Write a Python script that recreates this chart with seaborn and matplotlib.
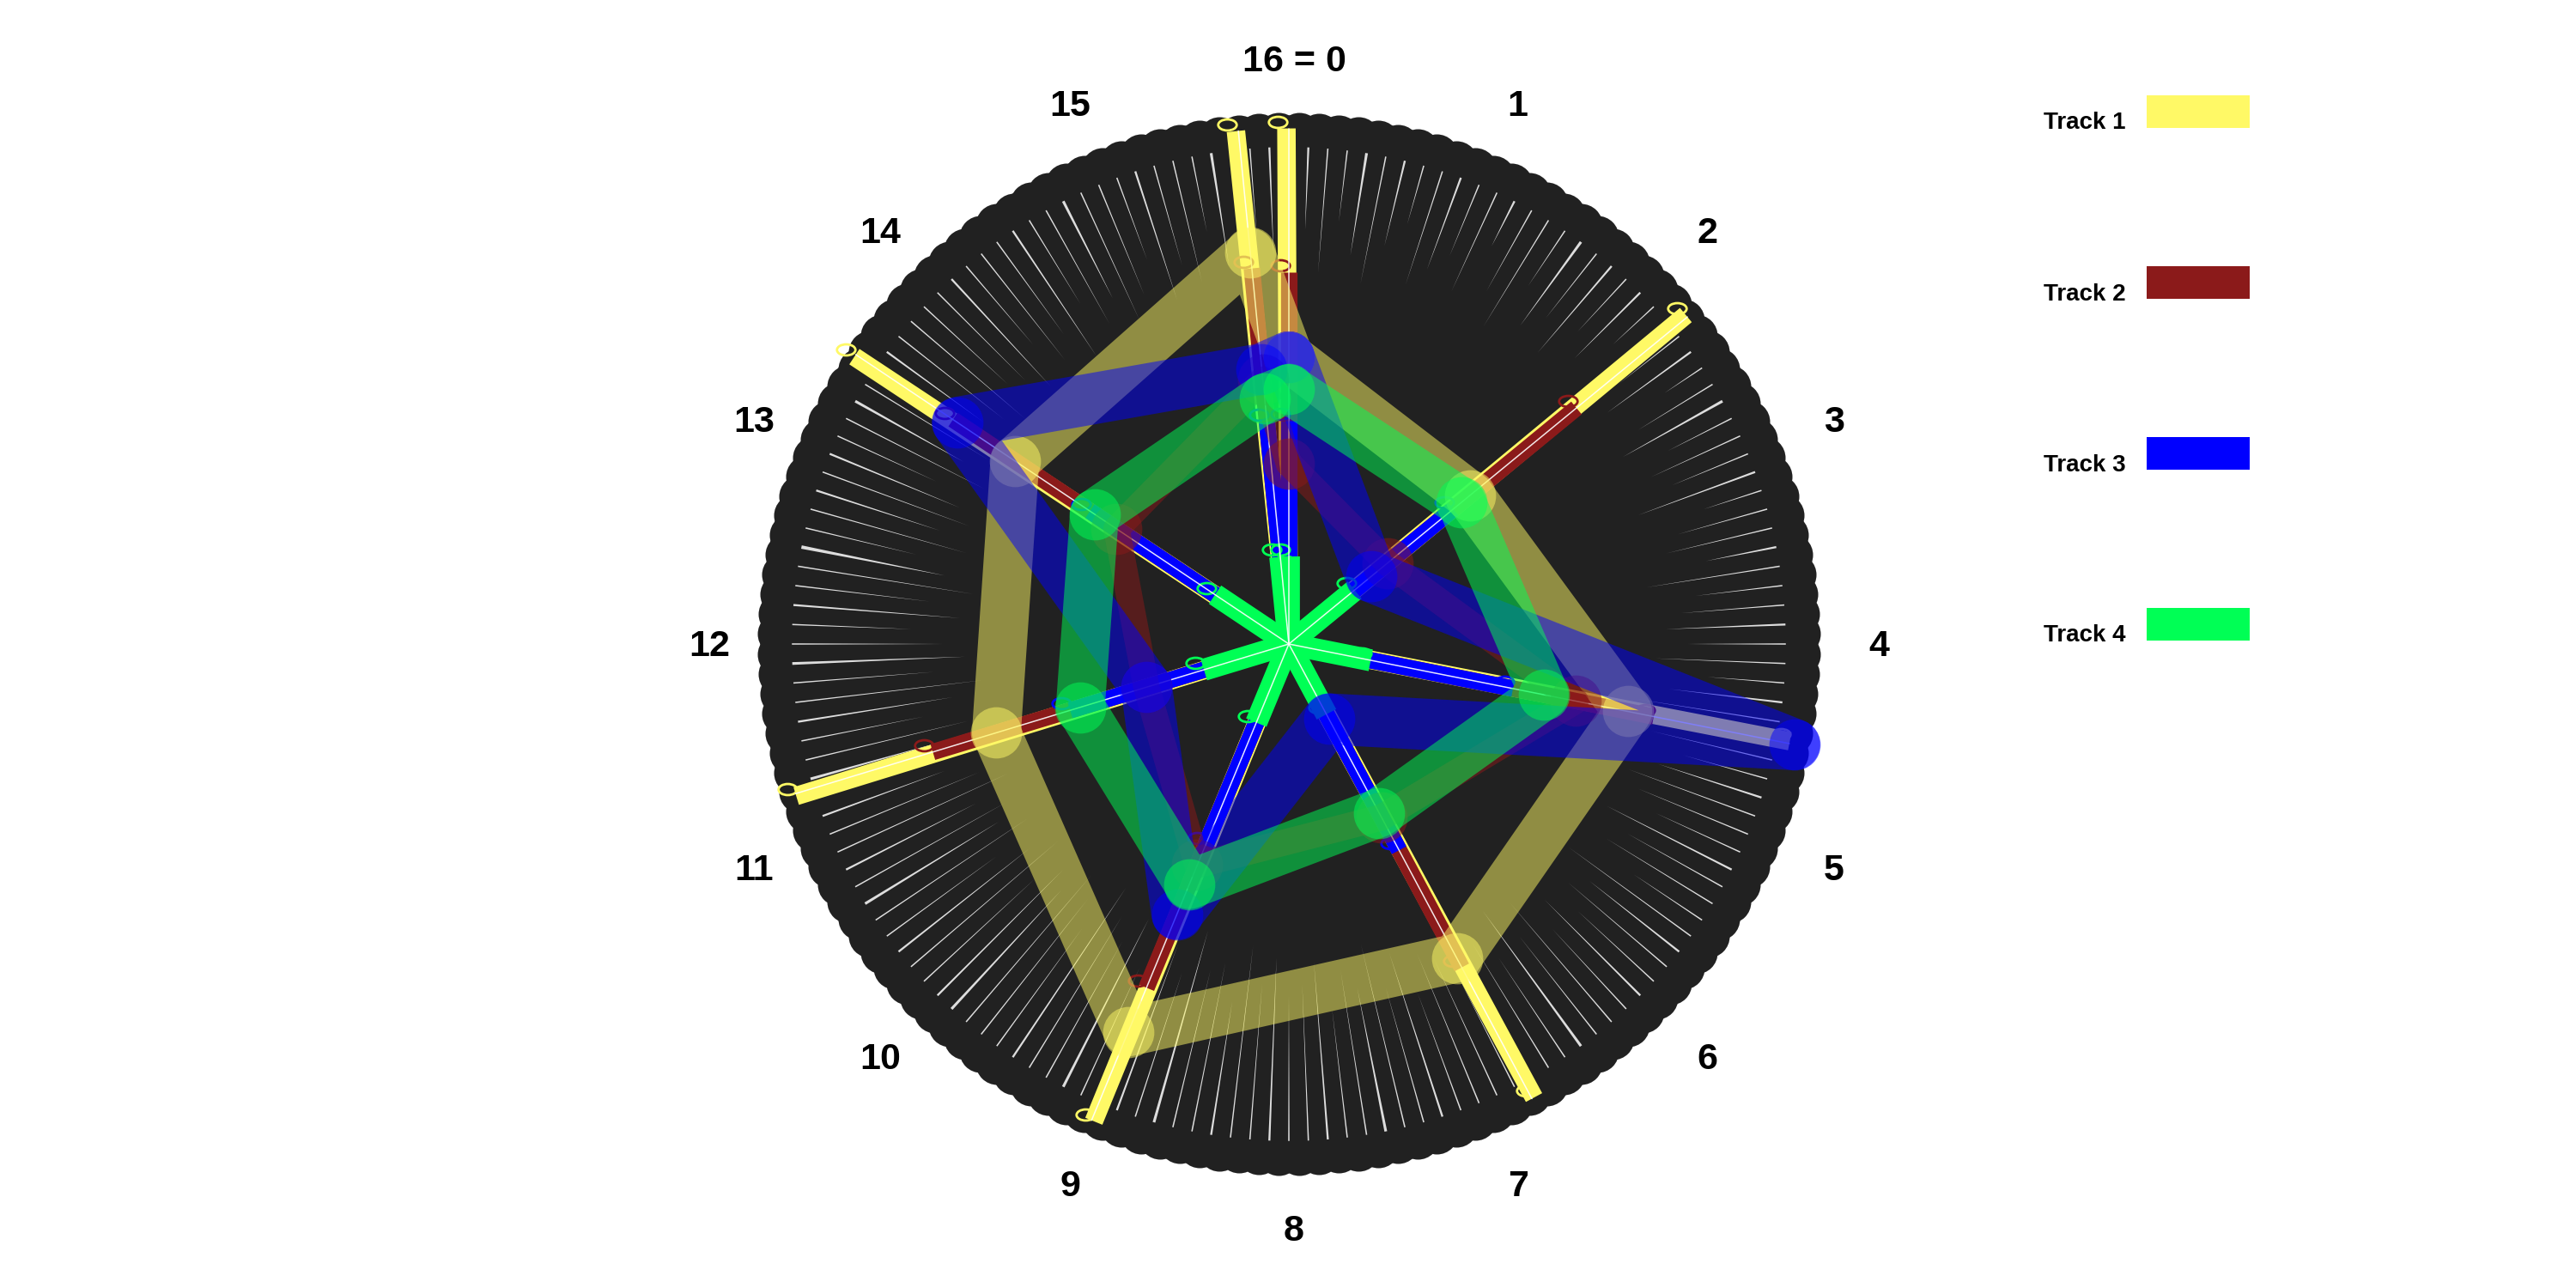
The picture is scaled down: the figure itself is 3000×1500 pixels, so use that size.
import numpy as np
import matplotlib
matplotlib.use("Agg")
import matplotlib.pyplot as plt
from matplotlib.path import Path
from matplotlib.patches import Rectangle
from matplotlib.transforms import offset_copy
import seaborn as sns

# spoke positions, in sixteenths of a turn (16 = 0)
spoke_pos = [0, 2.25, 4.5, 6.75, 9, 11.25, 13.5, 15.75]

track_names = ['Track 1', 'Track 2', 'Track 3', 'Track 4']
track_colors = ['#FFF966', '#8B1A1A', '#0000FF', '#00FF55']

# radial bars (0..1)
bar_t1 = [0.97, 0.97, 0.96, 0.97, 0.97, 0.97, 0.98, 0.97]
bar_t2 = [0.70, 0.70, 0.70, 0.69, 0.70, 0.70, 0.76, 0.71]
bar_t3 = [0.42, 0.40, 0.43, 0.44, 0.41, 0.43, 0.45, 0.42]
bar_t4 = [0.165, 0.16, 0.157, 0.15, 0.16, 0.167, 0.167, 0.165]

# closed outlines (0..1)
poly_t1 = [0.54, 0.44, 0.65, 0.67, 0.79, 0.575, 0.62, 0.74]
poly_t2 = [0.34, 0.24, 0.55, 0.37, 0.45, 0.28, 0.39, 0.50]
poly_t3 = [0.54, 0.20, 0.97, 0.16, 0.55, 0.28, 0.75, 0.52]
poly_t4 = [0.48, 0.42, 0.49, 0.36, 0.49, 0.41, 0.44, 0.465]

angle_labels = ['16 = 0', '1', '2', '3', '4', '5', '6', '7',
                '8', '9', '10', '11', '12', '13', '14', '15']

# background spikes: inner end radius and outer width (px), one per 0.1
spike_in = [0.72, 0.78, 0.70, 0.80, 0.74, 0.69, 0.77, 0.82, 0.71, 0.75,
            0.79, 0.73, 0.84, 0.76, 0.70, 0.81, 0.74, 0.78, 0.72, 0.80,
            0.76, 0.83, 0.71, 0.79, 0.74, 0.85, 0.77, 0.72, 0.80, 0.75,
            0.78, 0.70, 0.82, 0.76, 0.73, 0.80, 0.68, 0.77, 0.74, 0.71,
            0.75, 0.69, 0.79, 0.72, 0.66, 0.74, 0.70, 0.77, 0.73, 0.68,
            0.71, 0.76, 0.67, 0.73, 0.70, 0.78, 0.65, 0.72, 0.69, 0.74,
            0.68, 0.73, 0.64, 0.70, 0.62, 0.71, 0.66, 0.60, 0.69, 0.65,
            0.63, 0.70, 0.61, 0.67, 0.58, 0.66, 0.62, 0.69, 0.60, 0.64,
            0.66, 0.59, 0.64, 0.57, 0.68, 0.61, 0.63, 0.56, 0.65, 0.60,
            0.62, 0.67, 0.58, 0.64, 0.60, 0.55, 0.66, 0.61, 0.57, 0.63,
            0.60, 0.65, 0.57, 0.62, 0.68, 0.59, 0.64, 0.61, 0.66, 0.58,
            0.63, 0.69, 0.60, 0.66, 0.62, 0.70, 0.64, 0.58, 0.67, 0.61,
            0.65, 0.71, 0.62, 0.68, 0.60, 0.66, 0.72, 0.63, 0.69, 0.64,
            0.67, 0.73, 0.64, 0.70, 0.66, 0.62, 0.71, 0.68, 0.65, 0.72,
            0.70, 0.66, 0.74, 0.68, 0.72, 0.65, 0.75, 0.69, 0.73, 0.67,
            0.71, 0.77, 0.68, 0.74, 0.70, 0.79, 0.72, 0.67, 0.76, 0.73]
spike_w = [2, 3, 2, 2, 4, 2, 3, 2, 2, 3,
           2, 2, 3, 2, 2, 2, 4, 2, 3, 2,
           3, 2, 2, 2, 3, 2, 2, 4, 2, 2,
           2, 3, 2, 2, 2, 3, 2, 2, 2, 3,
           2, 2, 2, 3, 2, 2, 2, 2, 3, 2,
           2, 2, 3, 2, 2, 2, 2, 3, 2, 2,
           3, 2, 2, 2, 4, 2, 2, 3, 2, 2,
           2, 2, 3, 2, 2, 4, 2, 2, 3, 2,
           2, 3, 2, 2, 3, 2, 2, 4, 2, 3,
           2, 2, 4, 2, 2, 3, 2, 2, 2, 4,
           3, 2, 2, 3, 2, 2, 4, 2, 3, 2,
           2, 3, 2, 4, 2, 2, 3, 2, 2, 4,
           2, 2, 3, 2, 2, 5, 2, 2, 3, 2,
           3, 2, 2, 4, 2, 2, 3, 2, 2, 2,
           2, 3, 2, 2, 2, 3, 2, 2, 4, 2,
           2, 2, 3, 2, 2, 2, 4, 2, 2, 3]


def rad(u):
    return np.asarray(u, dtype=float) * 2 * np.pi / 16


sns.set_style('white')
plt.rcParams['font.family'] = ['Liberation Sans', 'DejaVu Sans']

fig = plt.figure(figsize=(30, 15), dpi=100)
R_PX = 619
ax = fig.add_axes([(1501 - R_PX) / 3000, (1500 - 750 - R_PX) / 1500,
                   2 * R_PX / 3000, 2 * R_PX / 1500], projection='polar')
ax.set_theta_zero_location('N')
ax.set_theta_direction(-1)
ax.set_ylim(0, 1)
ax.set_facecolor('none')
ax.grid(False)
ax.set_xticks([])
ax.set_yticks([])
ax.spines['polar'].set_visible(False)

# dark disc with a softly scalloped rim
dark = '#212121'
full = np.linspace(0, 2 * np.pi, 720)
ax.fill(full, np.full_like(full, 0.994), color=dark, lw=0, zorder=1)
spike_pos = np.arange(len(spike_in)) * 0.1
sns.scatterplot(x=rad(spike_pos + 0.05), y=np.full(len(spike_pos), 0.96),
                ax=ax, s=(50 * 0.72) ** 2, color=dark, linewidth=0,
                legend=False, zorder=1, clip_on=False)

# white spikes
r_out = 0.935
for u, ri, w in zip(spike_pos, spike_in, spike_w):
    t = rad(u)
    dw = (0.8 * w / 2) / (r_out * R_PX)
    ax.fill([t - dw, t, t + dw], [r_out, ri, r_out], color='white',
            lw=0, alpha=0.85, zorder=2)

# radial bars with tip rings
circ = Path.unit_circle()
ring = Path(circ.vertices * np.array([1.0, 0.6]), circ.codes)
tip_tr = offset_copy(ax.transData, fig=fig, x=-10, y=8, units='dots')

bars = [bar_t1, bar_t2, bar_t3, bar_t4]
bar_lw = [15.5, 13.8, 13.8, 18.5]
for k, (col, vals, lw) in enumerate(zip(track_colors, bars, bar_lw)):
    off = -0.012 if k == 0 else 0.0
    for u, v in zip(spoke_pos, vals):
        t = rad(u + off)
        ax.plot([t, t], [0, v], color=col, lw=lw, solid_capstyle='butt',
                zorder=3 + k)
    ax.plot(rad(np.array(spoke_pos) + off), vals, ls='none', marker=ring,
            ms=15.5, mfc='none', mec=col, mew=2, transform=tip_tr,
            zorder=3 + k, clip_on=False)

for u, v in zip(spoke_pos, bar_t1):
    t = rad(u)
    ax.plot([t, t], [0, v], color='white', lw=1.1, alpha=0.9, zorder=7)

# translucent outlines
polys = [poly_t1, poly_t2, poly_t3, poly_t4]
poly_lw = [41, 22, 43, 41]
for k, (col, vals, lw) in enumerate(zip(track_colors, polys, poly_lw)):
    th = rad(spoke_pos + [spoke_pos[0]])
    rr = np.array(vals + [vals[0]])
    sns.lineplot(x=th, y=rr, ax=ax, sort=False, estimator=None, color=col,
                 lw=lw, alpha=0.5, legend=False, solid_joinstyle='round',
                 solid_capstyle='round', zorder=8 + k, clip_on=False)
    sns.scatterplot(x=rad(spoke_pos), y=vals, ax=ax, s=43 ** 2, color=col,
                    alpha=0.5, linewidth=0, legend=False, zorder=8.5 + k,
                    clip_on=False)
ax.set_xlabel('')
ax.set_ylabel('')

# angular labels
lab_tr = offset_copy(ax.transData, fig=fig, x=6, y=-3, units='dots')
for k, lab in enumerate(angle_labels):
    ax.text(rad(k), 1.10, lab, transform=lab_tr, ha='center', va='center',
            fontsize=31, fontweight='bold', color='black', clip_on=False)

# legend on the right
patch_bottom = [0.9007, 0.7680, 0.6353, 0.5027]
for name, col, yb in zip(track_names, track_colors, patch_bottom):
    fig.add_artist(Rectangle((2500 / 3000, yb), 120 / 3000, 38 / 1500,
                             transform=fig.transFigure, color=col, lw=0))
    fig.text(2380 / 3000, yb - 0.001, name, fontsize=20, fontweight='bold',
             va='baseline', ha='left', color='black')

fig.savefig('out.png', dpi=100, facecolor='white')
plt.close(fig)
